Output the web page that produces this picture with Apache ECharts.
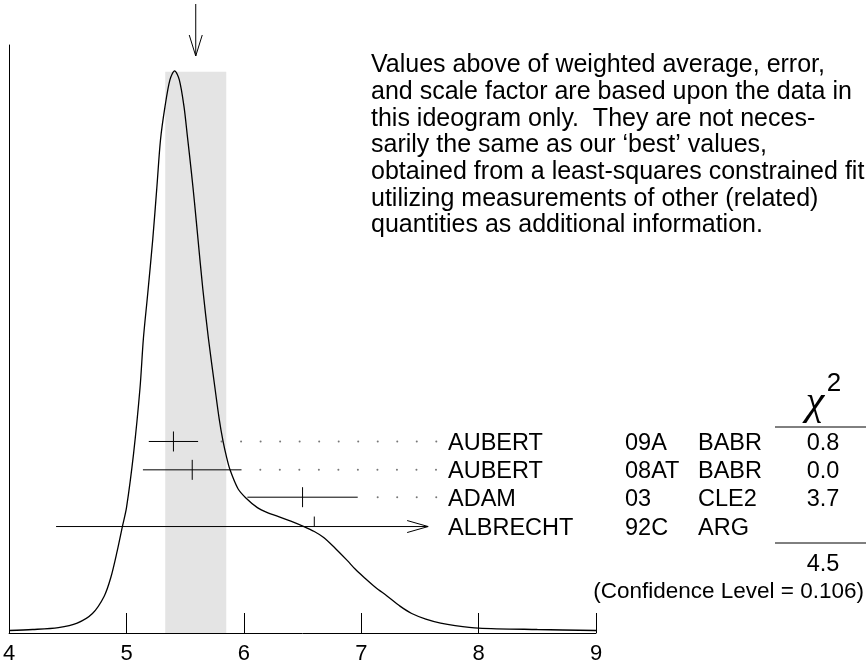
<!DOCTYPE html>
<html><head><meta charset="utf-8">
<script src="https://cdn.jsdelivr.net/npm/echarts@6/dist/echarts.min.js"></script>
<style>html,body{margin:0;padding:0;background:#fff}#c{width:866px;height:665px}</style>
</head><body><div id="c"></div>
<script>
// ---- data ----
const names = ['AUBERT', 'AUBERT', 'ADAM', 'ALBRECHT'];
const codes = ['09A', '08AT', '03', '92C'];
const exps = ['BABR', 'BABR', 'CLE2', 'ARG'];
const chi2 = ['0.8', '0.0', '3.7', ''];
const values = [5.40, 5.56, 6.50, 6.60];
const errors = [0.21, 0.42, 0.47, 2.2];
const rowY = [192.5, 164, 136.5, 107];
const chi2Total = '4.5';
const confidence = '(Confidence Level = 0.106)';
const avgValue = 5.59;
const avgError = 0.26;
const bandTop = 564;
const clipValue = 7.57;
const dotsFrom = [5.81, 6.14, 7.14, null];
const dotsTo = 7.64;
const dotStep = 0.1663;
const xTicks = [4, 5, 6, 7, 8, 9];
const curveX = [4.00, 4.20, 4.42, 4.58, 4.71, 4.81, 4.867, 4.92, 4.965, 5.00, 5.06, 5.115, 5.144, 5.18, 5.224, 5.26, 5.29, 5.328, 5.37, 5.41, 5.45, 5.49, 5.52, 5.553, 5.58, 5.609, 5.65, 5.698, 5.754, 5.79, 5.822, 5.852, 5.882, 5.95, 6.015, 6.115, 6.20, 6.285, 6.40, 6.512, 6.60, 6.68, 6.78, 6.88, 6.95, 7.023, 7.12, 7.222, 7.33, 7.43, 7.55, 7.676, 7.80, 8.0, 8.5, 9.0];
const curveY = [2.5, 3.5, 5.5, 10, 19.6, 37, 56, 82, 107, 126, 180, 246, 296, 340, 396, 450, 496, 529, 556, 565, 556, 529, 498, 463, 432, 396, 346, 296, 246, 215, 193, 177, 164, 145, 136, 126, 121, 117.5, 112.5, 107, 102, 96, 85, 73, 64, 56, 46, 37, 27, 19.6, 14, 10, 7.5, 5, 3.5, 2.5];
const paragraph = [
  'Values above of weighted average, error,',
  'and scale factor are based upon the data in',
  'this ideogram only.  They are not neces-',
  'sarily the same as our \u2018best\u2019 values,',
  'obtained from a least-squares constrained fit',
  'utilizing measurements of other (related)',
  'quantities as additional information.'
];

const FONT = "'Liberation Sans', Arial, Helvetica, sans-serif";
const chart = echarts.init(document.getElementById('c'), null, {renderer: 'canvas'});

const dots = [];
dotsFrom.forEach((f, i) => {
  if (f == null) return;
  for (let x = f; x <= dotsTo + 1e-6; x += dotStep) dots.push([x, rowY[i]]);
});

const bars = values.map((v, i) => [v, v - errors[i], v + errors[i], rowY[i], i]);

chart.setOption({
  animation: false,
  backgroundColor: '#fff',
  grid: {left: 8, right: 270, top: 45, bottom: 29, containLabel: false},
  xAxis: {
    type: 'value', min: 4, max: 9, interval: 1,
    axisLine: {show: true, lineStyle: {color: '#000', width: 1}},
    axisTick: {show: true, inside: true, length: 20, lineStyle: {color: '#000', width: 1}},
    axisLabel: {color: '#000', fontSize: 22, fontFamily: FONT, margin: 10,
      formatter: v => xTicks.indexOf(v) >= 0 ? String(v) : ''},
    splitLine: {show: false}
  },
  yAxis: {
    type: 'value', min: 0, max: 591,
    axisLine: {show: true, onZero: false, lineStyle: {color: '#000', width: 1}},
    axisTick: {show: false}, axisLabel: {show: false}, splitLine: {show: false}
  },
  series: [
    {
      type: 'line', data: [], silent: true,
      markArea: {silent: true, itemStyle: {color: '#e4e4e4'},
        data: [[{xAxis: avgValue - avgError, yAxis: 0}, {xAxis: avgValue + avgError, yAxis: bandTop}]]}
    },
    {
      type: 'line', data: curveX.map((x, i) => [x, curveY[i]]),
      smooth: 0.3, symbol: 'none', z: 5,
      lineStyle: {color: '#000', width: 1.3}
    },
    {
      type: 'scatter', data: dots, symbol: 'circle', symbolSize: 2, z: 4,
      itemStyle: {color: '#555'}, silent: true
    },
    {
      type: 'custom', data: bars, z: 6, clip: false,
      renderItem: function (params, api) {
        const v = api.value(0), lo = api.value(1), hi = api.value(2), y = api.value(3);
        const clipped = hi > clipValue;
        const pLo = api.coord([Math.max(lo, 4), y]);
        const pHi = api.coord([Math.min(hi, clipValue), y]);
        const pC = api.coord([v, y]);
        const st = {stroke: '#000', lineWidth: 1};
        const ch = [
          {type: 'line', shape: {x1: pLo[0], y1: pLo[1], x2: pHi[0], y2: pHi[1]}, style: st},
        ];
        if (clipped) {
          ch.push({type: 'line', shape: {x1: pC[0], y1: pC[1] - 10, x2: pC[0], y2: pC[1]}, style: st});
          ch.push({type: 'polyline', shape: {points: [[pHi[0] - 21, pHi[1] - 6], [pHi[0], pHi[1]], [pHi[0] - 21, pHi[1] + 6]]}, style: {stroke: '#000', lineWidth: 1, fill: null}});
        } else {
          ch.push({type: 'line', shape: {x1: pC[0], y1: pC[1] - 10, x2: pC[0], y2: pC[1] + 10}, style: st});
        }
        return {type: 'group', children: ch};
      }
    },
    {
      type: 'custom', data: [[avgValue]], z: 6, clip: false,
      renderItem: function (params, api) {
        const p = api.coord([api.value(0), 0]);
        const x = p[0];
        return {type: 'group', children: [
          {type: 'line', shape: {x1: x, y1: 4, x2: x, y2: 56}, style: {stroke: '#000', lineWidth: 1}},
          {type: 'polyline', shape: {points: [[x - 6.5, 35], [x, 56], [x + 6.5, 35]]}, style: {stroke: '#000', lineWidth: 1, fill: null}}
        ]};
      }
    }
  ]
});

function py(v) { return chart.convertToPixel({gridIndex: 0}, [4, v])[1]; }
const g = [];
g.push({type: 'text', left: 371, top: 52, style: {text: paragraph.join('\n'), font: '25px ' + FONT, lineHeight: 26.7, fill: '#000'}});
names.forEach((n, i) => {
  const y = py(rowY[i]) + 2;
  const f = '23.5px ' + FONT;
  g.push({type: 'text', x: 448, y: y, style: {text: n, font: f, fill: '#000', textVerticalAlign: 'middle'}});
  g.push({type: 'text', x: 625, y: y, style: {text: codes[i], font: f, fill: '#000', textVerticalAlign: 'middle'}});
  g.push({type: 'text', x: 698, y: y, style: {text: exps[i], font: f, fill: '#000', textVerticalAlign: 'middle'}});
  if (chi2[i]) g.push({type: 'text', x: 823, y: y, style: {text: chi2[i], font: f, fill: '#000', textAlign: 'center', textVerticalAlign: 'middle'}});
});
g.push({type: 'text', x: 815, y: 403, style: {text: '\u03c7', font: 'italic 42px \'Liberation Serif\', serif', fill: '#000', textAlign: 'center', textVerticalAlign: 'middle'}});
g.push({type: 'text', x: 834, y: 384, style: {text: '2', font: '26px ' + FONT, fill: '#000', textAlign: 'center', textVerticalAlign: 'middle'}});
g.push({type: 'line', shape: {x1: 775, y1: 427, x2: 866, y2: 427}, style: {stroke: '#000', lineWidth: 1}});
g.push({type: 'line', shape: {x1: 775, y1: 543, x2: 866, y2: 543}, style: {stroke: '#000', lineWidth: 1}});
g.push({type: 'text', x: 823, y: 565, style: {text: chi2Total, font: '23.5px ' + FONT, fill: '#000', textAlign: 'center', textVerticalAlign: 'middle'}});
g.push({type: 'text', x: 864, y: 592, style: {text: confidence, font: '22.5px ' + FONT, fill: '#000', textAlign: 'right', textVerticalAlign: 'middle'}});
chart.setOption({graphic: g});
</script>
</body></html>
